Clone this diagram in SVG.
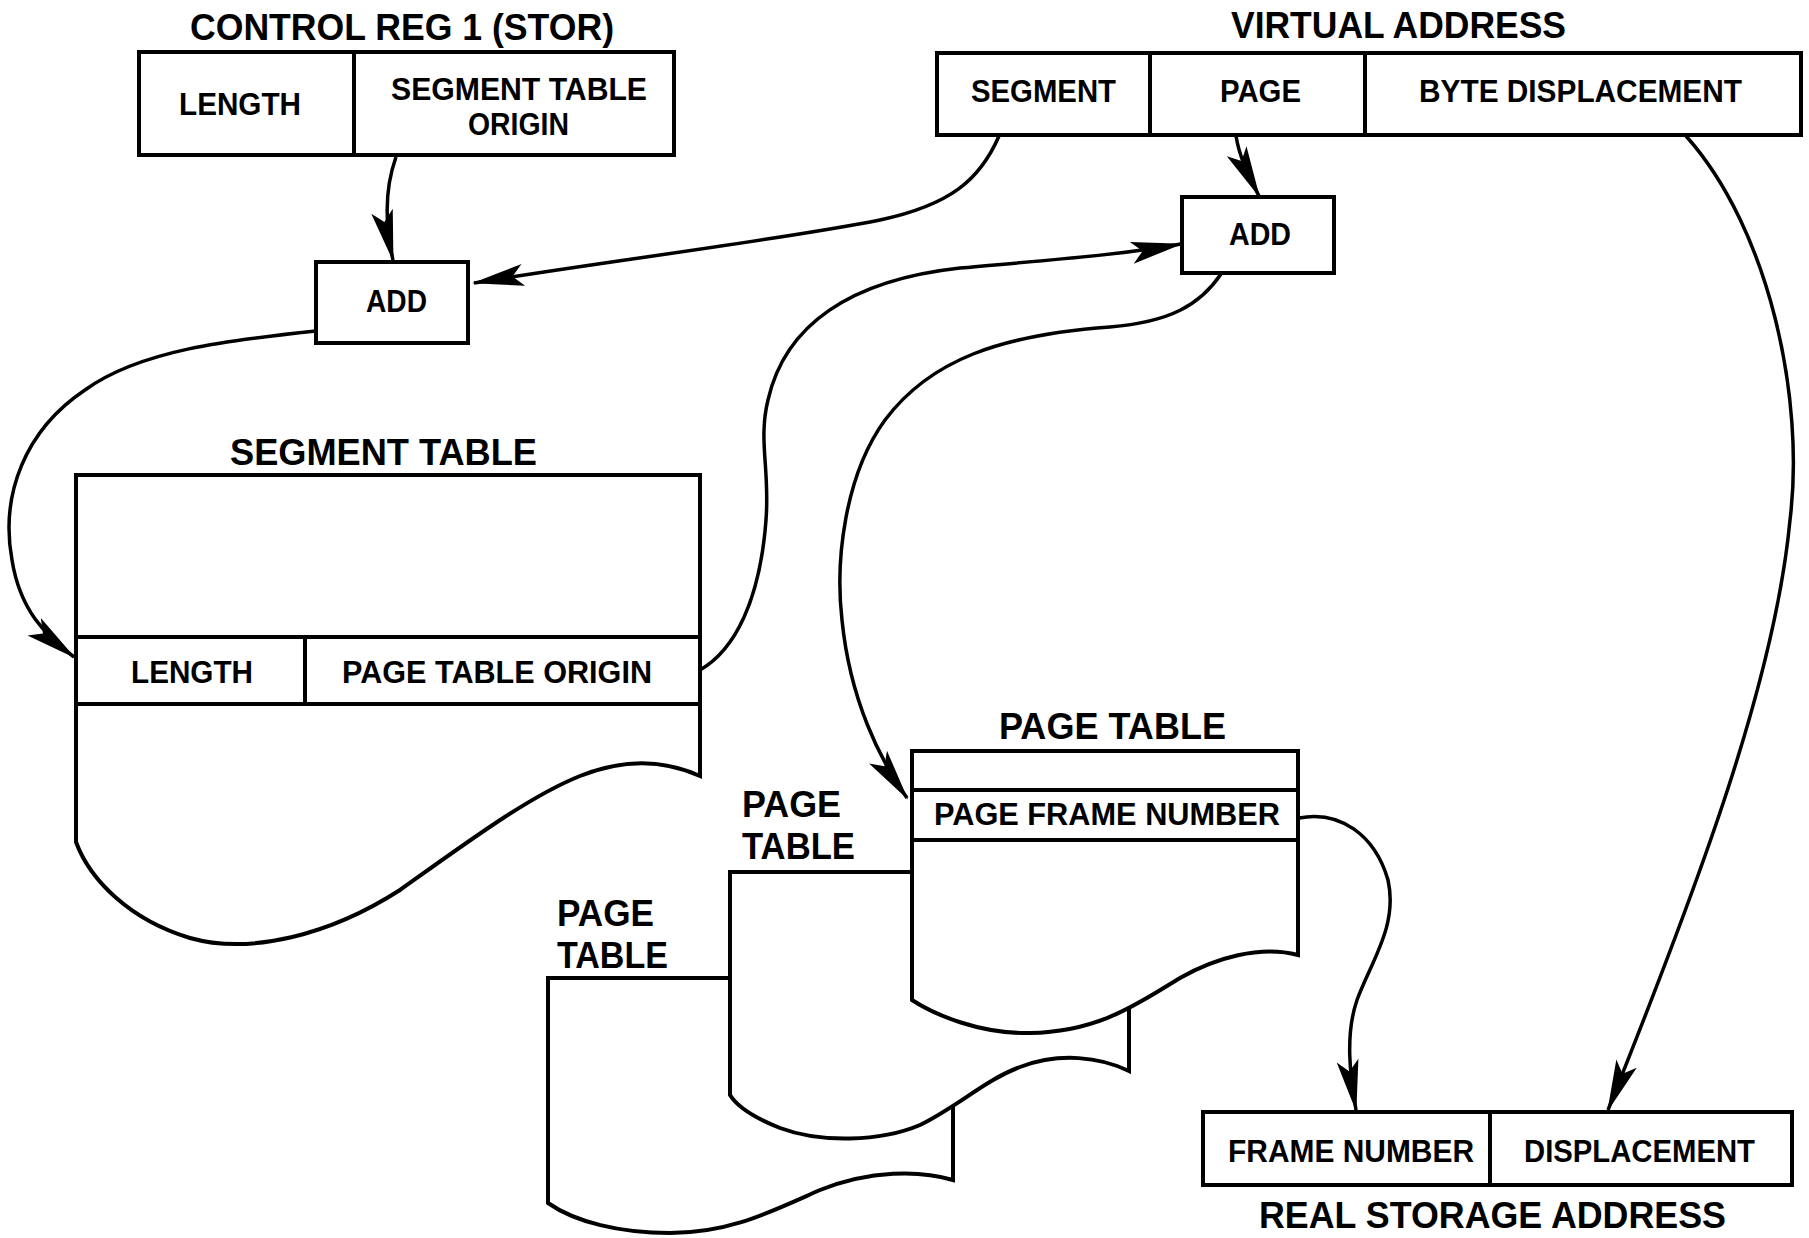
<svg xmlns="http://www.w3.org/2000/svg" width="1809" height="1238" viewBox="0 0 1809 1238">
  <style>
    .box { fill: #fff; stroke: #000; stroke-width: 4; stroke-linejoin: miter; }
    .sep { fill: none; stroke: #000; stroke-width: 4; }
    .wire { fill: none; stroke: #000; stroke-width: 3.5; }
    text { font-family: "Liberation Sans Narrow", "Liberation Sans", Arial, sans-serif; font-weight: bold; fill: #000; }
    .title { font-size: 36px; }
    .lbl { font-size: 32px; }
  </style>
  <defs>
    <!-- long, narrow, notched arrowhead -->
    <marker id="arrow" viewBox="-56 -14 60 28" markerWidth="60" markerHeight="28" refX="0" refY="0" orient="auto" markerUnits="userSpaceOnUse">
      <path d="M2,0 L-50,-11 L-39,0 L-50,11 Z" fill="#000"/>
    </marker>
  </defs>
  <rect width="1809" height="1238" fill="#fff"/>

  <!-- Control register 1 -->
  <g id="control-reg">
    <text class="title" x="190" y="40" textLength="424" lengthAdjust="spacingAndGlyphs">CONTROL REG 1 (STOR)</text>
    <rect class="box" x="139" y="52" width="535" height="103"/>
    <line class="sep" x1="354" y1="52" x2="354" y2="155"/>
    <text class="lbl" x="179" y="115" textLength="122" lengthAdjust="spacingAndGlyphs">LENGTH</text>
    <text class="lbl" x="391" y="100" textLength="256" lengthAdjust="spacingAndGlyphs">SEGMENT TABLE</text>
    <text class="lbl" x="468" y="135" textLength="101" lengthAdjust="spacingAndGlyphs">ORIGIN</text>
  </g>

  <!-- Virtual address -->
  <g id="virtual-address">
    <text class="title" x="1231" y="38" textLength="335" lengthAdjust="spacingAndGlyphs">VIRTUAL ADDRESS</text>
    <rect class="box" x="937" y="53" width="864" height="82"/>
    <line class="sep" x1="1150" y1="53" x2="1150" y2="135"/>
    <line class="sep" x1="1365" y1="53" x2="1365" y2="135"/>
    <text class="lbl" x="971" y="102" textLength="145" lengthAdjust="spacingAndGlyphs">SEGMENT</text>
    <text class="lbl" x="1220" y="102" textLength="81" lengthAdjust="spacingAndGlyphs">PAGE</text>
    <text class="lbl" x="1419" y="102" textLength="323" lengthAdjust="spacingAndGlyphs">BYTE DISPLACEMENT</text>
  </g>

  <!-- Adders -->
  <g id="add-segment">
    <rect class="box" x="316" y="262" width="152" height="81"/>
    <text class="lbl" x="366" y="312" textLength="61" lengthAdjust="spacingAndGlyphs">ADD</text>
  </g>
  <g id="add-page">
    <rect class="box" x="1182" y="197" width="152" height="76"/>
    <text class="lbl" x="1229" y="245" textLength="62" lengthAdjust="spacingAndGlyphs">ADD</text>
  </g>

  <!-- Segment table -->
  <g id="segment-table">
    <text class="title" x="230" y="465" textLength="307" lengthAdjust="spacingAndGlyphs">SEGMENT TABLE</text>
    <path class="box" d="M76,842 V475 H700 V776 C660,758 620,760 580,776 C530,796 470,840 400,890 C330,935 250,955 190,938 C130,920 90,880 76,842 Z"/>
    <line class="sep" x1="76" y1="637" x2="700" y2="637"/>
    <line class="sep" x1="76" y1="704" x2="700" y2="704"/>
    <line class="sep" x1="305" y1="637" x2="305" y2="704"/>
    <text class="lbl" x="131" y="683" textLength="122" lengthAdjust="spacingAndGlyphs">LENGTH</text>
    <text class="lbl" x="342" y="683" textLength="310" lengthAdjust="spacingAndGlyphs">PAGE TABLE ORIGIN</text>
  </g>

  <!-- Stack of page tables, back to front -->
  <g id="page-table-back">
    <path class="box" d="M548,1203 V978 H953 V1180 C920,1170 870,1170 820,1190 C770,1212 730,1233 670,1233 C620,1233 575,1222 548,1203 Z"/>
    <text class="title" x="557" y="926" textLength="97" lengthAdjust="spacingAndGlyphs">PAGE</text>
    <text class="title" x="557" y="968" textLength="111" lengthAdjust="spacingAndGlyphs">TABLE</text>
  </g>
  <g id="page-table-middle">
    <path class="box" d="M730,1095 V872 H1129 V1071 C1100,1057 1060,1052 1020,1067 C985,1080 960,1105 920,1125 C880,1142 820,1143 780,1128 C755,1118 738,1108 730,1095 Z"/>
    <text class="title" x="742" y="817" textLength="99" lengthAdjust="spacingAndGlyphs">PAGE</text>
    <text class="title" x="742" y="859" textLength="113" lengthAdjust="spacingAndGlyphs">TABLE</text>
  </g>
  <g id="page-table">
    <text class="title" x="999" y="739" textLength="227" lengthAdjust="spacingAndGlyphs">PAGE TABLE</text>
    <path class="box" d="M912,1000 V751 H1298 V955 C1260,945 1215,958 1180,978 C1140,1002 1100,1032 1030,1033 C980,1034 935,1015 912,1000 Z"/>
    <line class="sep" x1="912" y1="790" x2="1298" y2="790"/>
    <line class="sep" x1="912" y1="840" x2="1298" y2="840"/>
    <text class="lbl" x="934" y="825" textLength="346" lengthAdjust="spacingAndGlyphs">PAGE FRAME NUMBER</text>
  </g>

  <!-- Real storage address -->
  <g id="real-address">
    <rect class="box" x="1203" y="1112" width="589" height="73"/>
    <line class="sep" x1="1490" y1="1112" x2="1490" y2="1185"/>
    <text class="lbl" x="1228" y="1162" textLength="246" lengthAdjust="spacingAndGlyphs">FRAME NUMBER</text>
    <text class="lbl" x="1524" y="1162" textLength="231" lengthAdjust="spacingAndGlyphs">DISPLACEMENT</text>
    <text class="title" x="1259" y="1228" textLength="467" lengthAdjust="spacingAndGlyphs">REAL STORAGE ADDRESS</text>
  </g>

  <!-- Connectors -->
  <g id="connectors" marker-end="url(#arrow)">
    <path class="wire" d="M396,157 C386,185 384,220 393,260"/>
    <path class="wire" d="M999,136 C980,180 950,205 880,220 C780,240 600,262 474,283"/>
    <path class="wire" d="M316,331 C230,340 140,350 85,390 C25,430 0,495 12,560 C20,610 45,635 74,657"/>
    <path class="wire" d="M700,670 C735,650 760,600 766,520 C770,470 758,440 768,400 C785,325 850,280 960,268 C1050,260 1120,255 1181,244"/>
    <path class="wire" d="M1236,136 C1240,160 1250,178 1259,196"/>
    <path class="wire" d="M1221,274 C1200,305 1170,322 1110,327 C1000,335 930,360 885,420 C845,475 835,560 842,620 C850,700 880,760 907,798"/>
    <path class="wire" d="M1299,818 C1340,810 1375,835 1388,880 C1398,925 1372,960 1357,1000 C1345,1035 1350,1075 1356,1110"/>
    <path class="wire" d="M1686,136 C1770,230 1805,400 1790,520 C1775,680 1700,880 1608,1110"/>
  </g>
</svg>
